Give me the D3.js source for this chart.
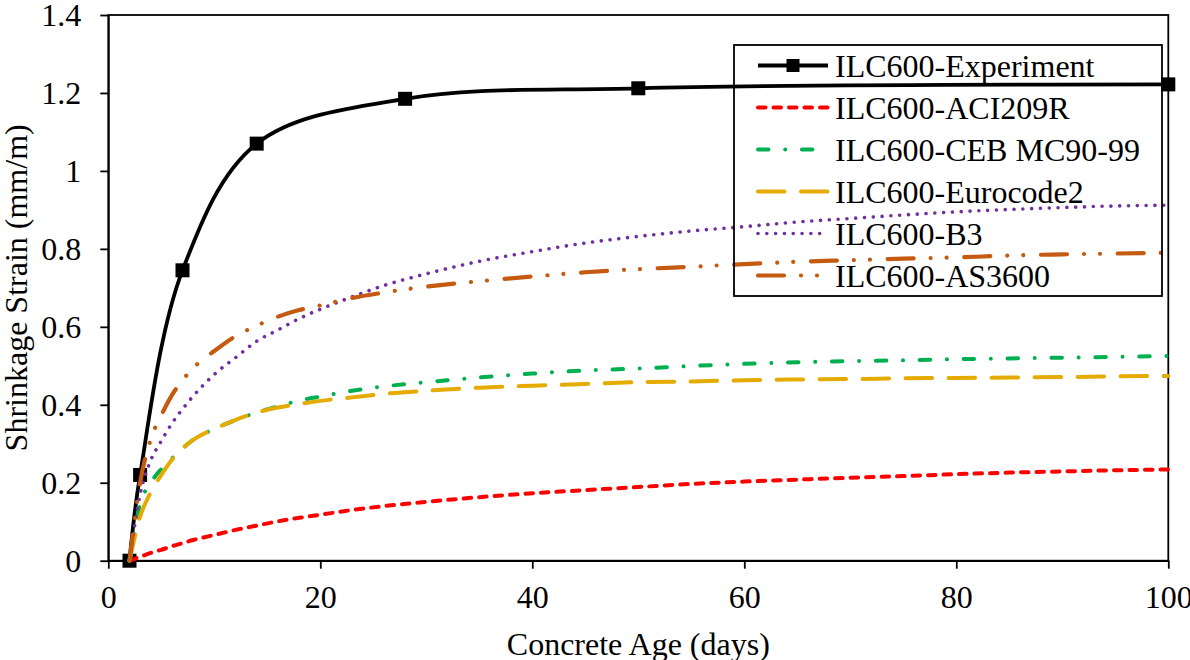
<!DOCTYPE html>
<html>
<head>
<meta charset="utf-8">
<script src="https://cdn.jsdelivr.net/npm/d3@7"></script>
<style>
  html, body { margin: 0; padding: 0; background: #fff; }
  svg { display: block; font-family: "Liberation Serif", "Times New Roman", serif; }
</style>
</head>
<body>
<svg id="chart" width="1190" height="660"></svg>
<script>
// Measured shrinkage of ILC600 (days, mm/m)
const expAges = [2, 3, 7, 14, 28, 50, 100];
const expStrain = [0, 0.22, 0.745, 1.07, 1.185, 1.212, 1.222];

// Ages at which the code-model predictions are tabulated
const modelAges = [2, 3, 4, 5, 6, 7, 8, 10, 12, 14, 16, 18, 20, 23, 26, 30, 35, 40, 45, 50, 55, 60, 65, 70, 75, 80, 85, 90, 95, 100];

const aci209r = [0, 0.010, 0.020, 0.028, 0.037, 0.045, 0.053, 0.066, 0.079, 0.090, 0.101, 0.110, 0.118, 0.130, 0.140, 0.151, 0.163, 0.173, 0.181, 0.189, 0.197, 0.203, 0.208, 0.213, 0.217, 0.222, 0.226, 0.229, 0.232, 0.234];
const cebMC90 = [0, 0.145, 0.200, 0.235, 0.262, 0.288, 0.310, 0.338, 0.361, 0.380, 0.396, 0.411, 0.421, 0.436, 0.447, 0.458, 0.470, 0.480, 0.488, 0.493, 0.4995, 0.505, 0.509, 0.512, 0.514, 0.517, 0.519, 0.521, 0.523, 0.525];
const eurocode2 = [0, 0.113, 0.175, 0.220, 0.259, 0.288, 0.310, 0.338, 0.361, 0.380, 0.393, 0.402, 0.410, 0.419, 0.428, 0.436, 0.444, 0.449, 0.4535, 0.458, 0.460, 0.463, 0.465, 0.466, 0.468, 0.469, 0.470, 0.471, 0.473, 0.474];
const b3 = [0, 0.170, 0.257, 0.307, 0.352, 0.389, 0.422, 0.478, 0.521, 0.563, 0.592, 0.621, 0.645, 0.677, 0.706, 0.736, 0.768, 0.793, 0.815, 0.832, 0.846, 0.857, 0.869, 0.878, 0.887, 0.895, 0.901, 0.906, 0.910, 0.912];
const as3600 = [0, 0.200, 0.311, 0.373, 0.425, 0.463, 0.494, 0.538, 0.576, 0.603, 0.626, 0.643, 0.655, 0.674, 0.688, 0.703, 0.717, 0.729, 0.740, 0.748, 0.754, 0.761, 0.767, 0.771, 0.775, 0.778, 0.783, 0.786, 0.788, 0.790];

const seriesNames = ["ILC600-Experiment", "ILC600-ACI209R", "ILC600-CEB MC90-99", "ILC600-Eurocode2", "ILC600-B3", "ILC600-AS3600"];

const xTicks = [0, 20, 40, 60, 80, 100];
const yTicks = [0, 0.2, 0.4, 0.6, 0.8, 1, 1.2, 1.4];
const yTickLabels = ["0", "0.2", "0.4", "0.6", "0.8", "1", "1.2", "1.4"];

const xTitle = "Concrete Age (days)";
const yTitle = "Shrinkage Strain (mm/m)";

// ---- layout ----
const svg = d3.select("#chart");
const plot = { left: 108.3, right: 1168.3, top: 15, bottom: 560.7 };
const FONT = 32;

const x = d3.scaleLinear().domain([0, 100]).range([plot.left, plot.right]);
const y = d3.scaleLinear().domain([0, 1.4]).range([plot.bottom, plot.top]);

svg.append("rect").attr("width", 1190).attr("height", 660).attr("fill", "#fff");

// plot frame
svg.append("rect")
  .attr("x", plot.left).attr("y", plot.top)
  .attr("width", plot.right - plot.left).attr("height", plot.bottom - plot.top)
  .attr("fill", "none").attr("stroke", "#000").attr("stroke-width", 1.8);

// axes
const xAxis = svg.append("g")
  .attr("transform", `translate(0,${plot.bottom})`)
  .call(d3.axisBottom(x).tickValues(xTicks).tickSize(8).tickSizeOuter(0).tickFormat(d3.format("d")));
const yAxis = svg.append("g")
  .attr("transform", `translate(${plot.left},0)`)
  .call(d3.axisLeft(y).tickValues(yTicks).tickSize(8).tickSizeOuter(0)
    .tickFormat((d, i) => yTickLabels[i]));

[xAxis, yAxis].forEach(g => {
  g.select(".domain").attr("stroke", "#000").attr("stroke-width", 1.8);
  g.selectAll(".tick line").attr("stroke", "#000").attr("stroke-width", 1.8);
  g.selectAll(".tick text")
    .attr("fill", "#000")
    .style("font-family", "'Liberation Serif', 'Times New Roman', serif")
    .style("font-size", FONT + "px");
});
xAxis.selectAll(".tick text").attr("y", 47.5).attr("dy", null);
yAxis.selectAll(".tick text").attr("x", -27).attr("dy", "0.34em");

// axis titles
svg.append("text")
  .attr("x", (plot.left + plot.right) / 2).attr("y", 655)
  .attr("text-anchor", "middle").style("font-size", FONT + "px")
  .text(xTitle);
svg.append("text")
  .attr("transform", `translate(27,${(plot.top + plot.bottom) / 2}) rotate(-90)`)
  .attr("text-anchor", "middle").style("font-size", FONT + "px")
  .text(yTitle);

// ---- series styles ----
const styles = [
  { color: "#000000", width: 3.8, dash: null },
  { color: "#FF0000", width: 4, dash: "7.5,8" },
  { color: "#00B050", width: 4, dash: "10.5,16.7,0.01,16.7" },
  { color: "#E5AB00", width: 4, dash: "26.5,16.5" },
  { color: "#7030A0", width: 3.6, dash: "0.01,8.8" },
  { color: "#C55A11", width: 4.2, dash: "26,17,0.01,16,0.01,17.7" }
];

const modelSeries = [aci209r, cebMC90, eurocode2, b3, as3600];

const expLine = d3.line()
  .x(d => x(d[0])).y(d => y(d[1]))
  .curve(d3.curveCatmullRom.alpha(0.5));
const modelLine = d3.line()
  .x(d => x(d[0])).y(d => y(d[1]))
  .curve(d3.curveMonotoneX);

const curves = svg.append("g");

// experiment first, with its square markers
const expData = expAges.map((a, i) => [a, expStrain[i]]);
curves.append("path")
  .datum(expData)
  .attr("d", expLine)
  .attr("fill", "none")
  .attr("stroke", styles[0].color)
  .attr("stroke-width", styles[0].width);
curves.selectAll("rect.marker")
  .data(expData)
  .join("rect")
  .attr("class", "marker")
  .attr("x", d => x(d[0]) - 7).attr("y", d => y(d[1]) - 7)
  .attr("width", 14).attr("height", 14)
  .attr("fill", "#000");

// code-model predictions
modelSeries.forEach((vals, k) => {
  const st = styles[k + 1];
  curves.append("path")
    .datum(modelAges.map((a, i) => [a, vals[i]]))
    .attr("d", modelLine)
    .attr("fill", "none")
    .attr("stroke", st.color)
    .attr("stroke-width", st.width)
    .attr("stroke-linecap", "round")
    .attr("stroke-dasharray", st.dash);
});

// ---- legend ----
const legend = svg.append("g");
legend.append("rect")
  .attr("x", 734).attr("y", 45).attr("width", 428).attr("height", 251)
  .attr("fill", "none").attr("stroke", "#000").attr("stroke-width", 1.8);

seriesNames.forEach((name, i) => {
  const cy = 65.5 + i * 42;
  const st = styles[i];
  legend.append("line")
    .attr("x1", 758).attr("x2", 828).attr("y1", cy).attr("y2", cy)
    .attr("stroke", st.color).attr("stroke-width", st.width)
    .attr("stroke-linecap", i === 0 ? "butt" : "round")
    .attr("stroke-dasharray", st.dash);
  if (i === 0) {
    legend.append("rect")
      .attr("x", 793 - 6.5).attr("y", cy - 6.5)
      .attr("width", 13).attr("height", 13).attr("fill", "#000");
  }
  legend.append("text")
    .attr("x", 835).attr("y", cy + 11)
    .style("font-size", FONT + "px")
    .text(name);
});
</script>
</body>
</html>
